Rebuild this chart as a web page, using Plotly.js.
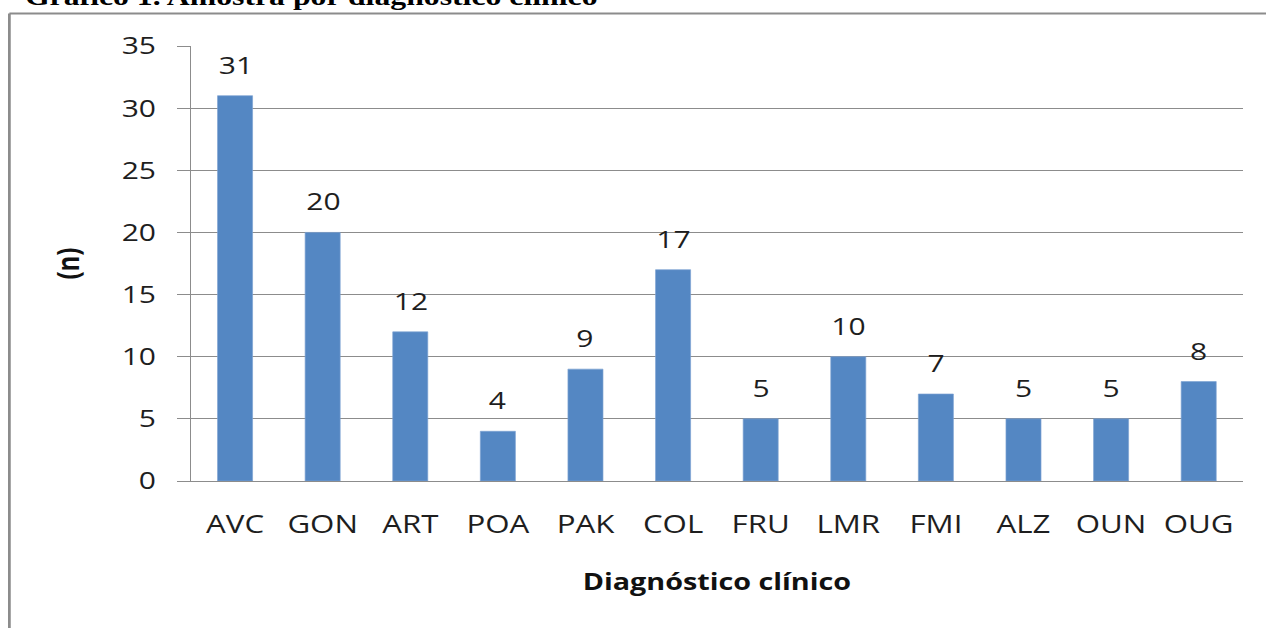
<!DOCTYPE html>
<html>
<head>
<meta charset="utf-8">
<script src="https://cdn.plot.ly/plotly-3.0.1.min.js"></script>
<style>
  html, body { margin: 0; padding: 0; overflow: hidden; background: #fff; }
  #wrap { width: 1266px; height: 628px; overflow: hidden; position: relative; }
  #chart { width: 1013px; height: 628px; transform: scaleX(1.25); transform-origin: 0 0; }
</style>
</head>
<body>
<div id="wrap"><div id="chart"></div></div>
<script>
const categories = ['AVC','GON','ART','POA','PAK','COL','FRU','LMR','FMI','ALZ','OUN','OUG'];
const values = [31, 20, 12, 4, 9, 17, 5, 10, 7, 5, 5, 8];
const yTicks = [0, 5, 10, 15, 20, 25, 30, 35];
const chartTitle = 'Gráfico 1. Amostra por diagnóstico clínico';
const xTitle = 'Diagnóstico clínico';
const yTitle = '(n)';

const grey = '#8c8c8c';
const textCol = '#1e1e1e';

const trace = {
  type: 'bar',
  x: categories,
  y: values,
  marker: { color: '#5487c3', line: { color: '#7ea3d2', width: 0.6 } },
  hoverinfo: 'x+y'
};

const labelAnns = categories.map((c, i) => ({
  x: c, y: values[i], xref: 'x', yref: 'y',
  text: String(values[i]), showarrow: false,
  yanchor: 'bottom', yshift: 13,
  font: { family: 'Open Sans', size: 24, color: textCol }
}));

const layout = {
  width: 1013, height: 628,
  margin: { l: 152.8, r: 18.6, t: 46, b: 147 },
  paper_bgcolor: '#ffffff',
  plot_bgcolor: '#ffffff',
  showlegend: false,
  bargap: 0.6,
  xaxis: {
    type: 'category',
    showline: true, linecolor: grey, linewidth: 1,
    ticks: '', showgrid: false, zeroline: false,
    tickfont: { family: 'Open Sans', size: 25, color: textCol },
    ticklabelstandoff: 21,
    title: { text: xTitle, standoff: 34, font: { family: 'Open Sans', size: 23, color: '#111', weight: 'bold' } },
    automargin: false
  },
  yaxis: {
    range: [0, 35],
    tickvals: yTicks,
    ticktext: yTicks.map(String),
    showline: true, linecolor: grey, linewidth: 1,
    ticks: 'outside', ticklen: 10.4, tickcolor: grey, tickwidth: 1,
    showgrid: true, gridcolor: grey, gridwidth: 1,
    zeroline: false,
    tickfont: { family: 'Open Sans', size: 24, color: textCol },
    ticklabelstandoff: 12,
    title: { text: yTitle, standoff: 26, font: { family: 'Open Sans', size: 24, color: '#111', weight: 'bold' } },
    automargin: false
  },
  annotations: labelAnns.concat([{
    xref: 'paper', yref: 'paper', x: -0.1607, y: 1,
    xanchor: 'left', yanchor: 'bottom', yshift: 33.5,
    text: '<b>' + chartTitle + '</b>', showarrow: false,
    font: { family: 'Liberation Serif', size: 25.4, color: '#000' }
  }]),
  shapes: [
    { type: 'line', xref: 'paper', yref: 'paper', x0: -0.1730, x1: 1.2, y0: 1.0747, y1: 1.0747,
      line: { color: grey, width: 2.2 } },
    { type: 'line', xref: 'paper', yref: 'paper', x0: -0.1730, x1: -0.1730, y0: 1.0747, y1: -0.5,
      line: { color: grey, width: 2.2 } }
  ]
};

Plotly.newPlot('chart', [trace], layout, { displayModeBar: false, staticPlot: true });
</script>
</body>
</html>
